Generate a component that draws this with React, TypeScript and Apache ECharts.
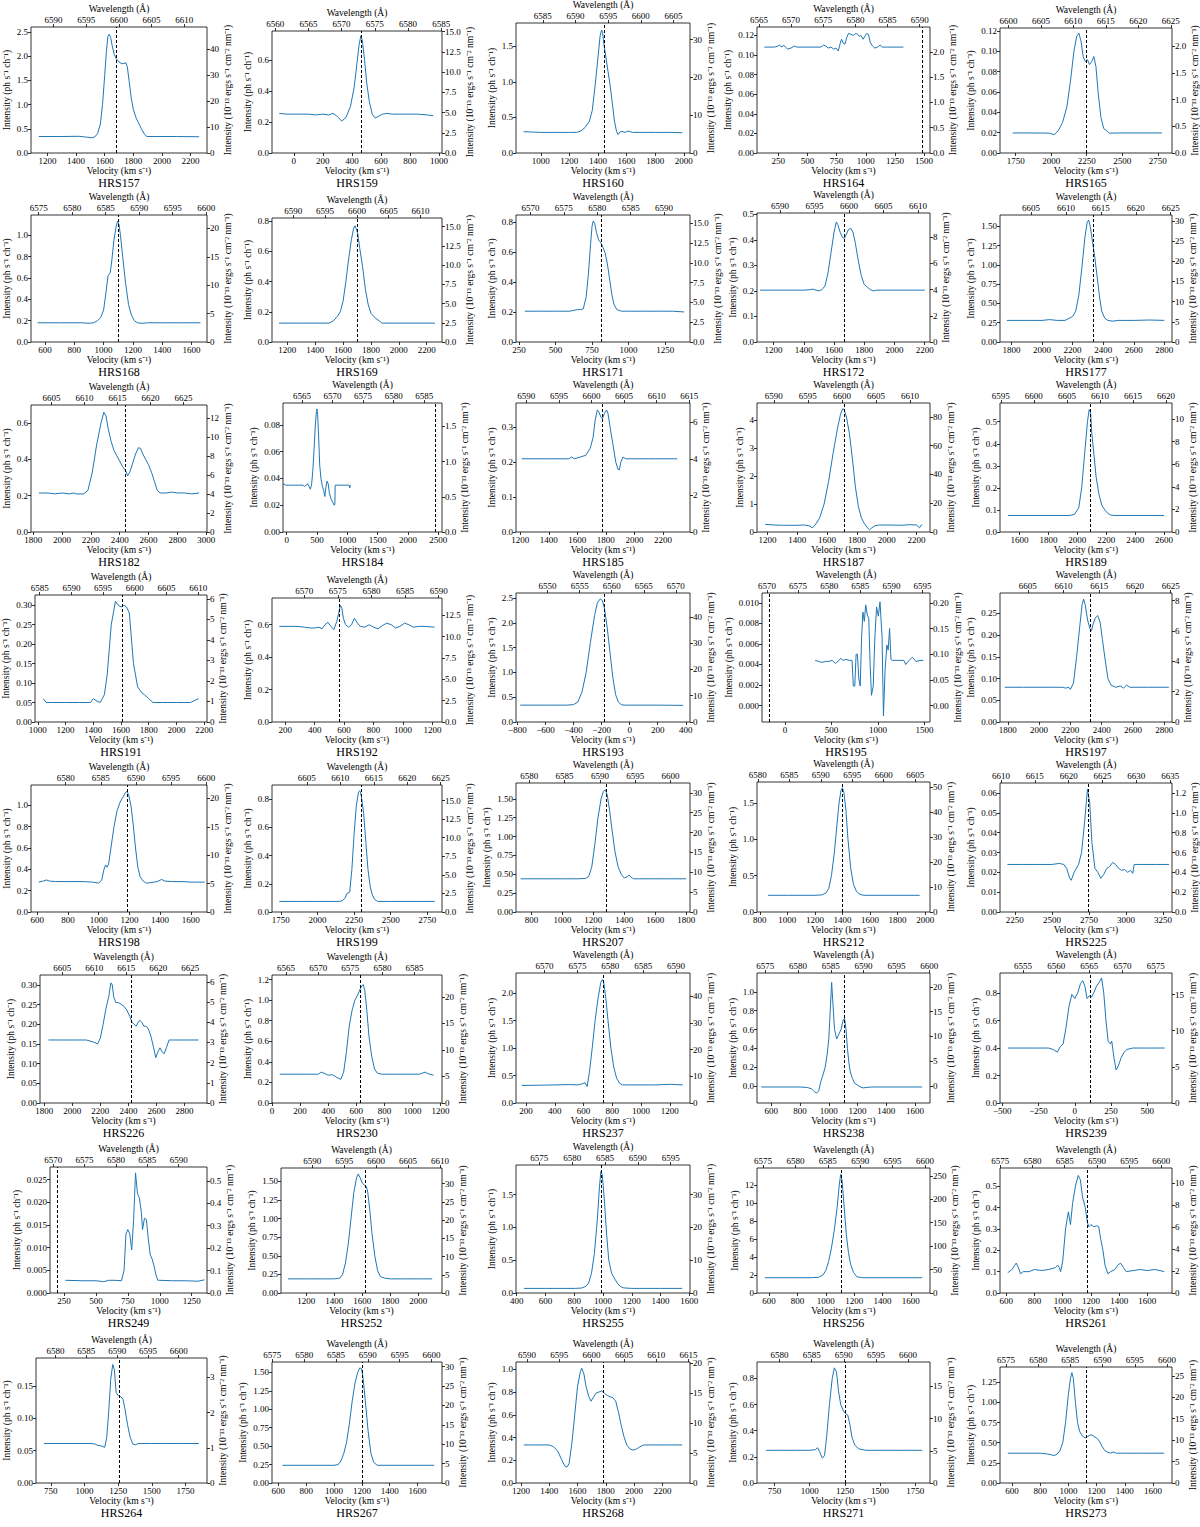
import React, { useEffect, useRef } from "react";
import * as echarts from "echarts";

const C_KMS = 299792.458;
const L0 = 6562.8;

const NAMES = ["HRS157","HRS159","HRS160","HRS164","HRS165","HRS168","HRS169","HRS171","HRS172","HRS177","HRS182","HRS184","HRS185","HRS187","HRS189","HRS191","HRS192","HRS193","HRS195","HRS197","HRS198","HRS199","HRS207","HRS212","HRS225","HRS226","HRS230","HRS237","HRS238","HRS239","HRS249","HRS252","HRS255","HRS256","HRS261","HRS264","HRS267","HRS268","HRS271","HRS273"];

// spectra: [velocity km/s, intensity ph/s/ch]
const S157 = [[1140,.34],[1300,.34],[1420,.345],[1450,.335],[1480,.325],[1510,.315],[1530,.33],[1550,.40],[1570,.60],[1585,1.0],[1600,1.6],[1612,2.1],[1622,2.4],[1632,2.45],[1642,2.38],[1652,2.22],[1665,2.05],[1680,1.95],[1700,1.88],[1720,1.84],[1735,1.85],[1748,1.86],[1758,1.78],[1770,1.5],[1785,1.15],[1800,.9],[1820,.72],[1840,.6],[1860,.48],[1880,.38],[1895,.34],[1950,.34],[2100,.34],[2260,.335]];
const S159 = [[-100,.255],[-50,.25],[0,.25],[100,.25],[150,.245],[200,.25],[240,.245],[270,.255],[300,.235],[330,.205],[360,.23],[390,.3],[415,.42],[435,.58],[450,.7],[462,.755],[472,.72],[487,.6],[502,.45],[520,.33],[540,.25],[560,.225],[580,.235],[610,.25],[640,.255],[680,.25],[750,.25],[850,.25],[920,.245],[960,.24]];
const S160 = [[880,.3],[1000,.29],[1100,.29],[1200,.29],[1250,.29],[1280,.31],[1310,.36],[1340,.45],[1360,.6],[1380,.95],[1400,1.35],[1415,1.65],[1425,1.73],[1432,1.7],[1440,1.55],[1455,1.35],[1470,1.15],[1485,.95],[1500,.7],[1515,.45],[1530,.3],[1540,.26],[1555,.3],[1575,.3],[1590,.29],[1610,.31],[1640,.29],[1700,.29],[1800,.29],[1900,.29],[1990,.285]];
const S164 = [[130,.108],[216,.108],[245,.109],[259,.110],[281,.108],[296,.110],[310,.108],[330,.106],[358,.107],[387,.109],[410,.108],[615,.108],[638,.110],[658,.109],[678,.107],[701,.108],[724,.106],[744,.107],[764,.104],[781,.112],[792,.116],[807,.112],[821,.111],[838,.118],[852,.122],[872,.121],[895,.120],[915,.122],[929,.121],[943,.119],[958,.120],[978,.116],[992,.119],[1009,.122],[1023,.121],[1038,.113],[1058,.109],[1078,.107],[1100,.108],[1123,.110],[1143,.108],[1186,.108],[1323,.108]];
const S165 = [[1730,.0197],[1900,.0197],[1990,.0195],[2020,.018],[2050,.022],[2080,.03],[2110,.045],[2135,.07],[2160,.10],[2180,.115],[2195,.118],[2210,.11],[2225,.095],[2240,.09],[2255,.092],[2270,.087],[2285,.09],[2300,.095],[2315,.085],[2330,.06],[2350,.035],[2370,.024],[2390,.022],[2410,.0195],[2450,.0197],[2780,.0197]];
const S168 = [[550,.18],[700,.18],[850,.18],[900,.175],[930,.18],[960,.2],[980,.23],[1000,.3],[1015,.45],[1030,.62],[1045,.65],[1055,.75],[1070,.95],[1085,1.08],[1095,1.13],[1105,1.1],[1115,1.0],[1130,.8],[1150,.55],[1170,.35],[1190,.25],[1210,.2],[1230,.18],[1260,.175],[1300,.18],[1400,.18],[1500,.18],[1660,.18]];
const S169 = [[1140,.125],[1300,.125],[1450,.125],[1500,.125],[1530,.14],[1560,.17],[1580,.2],[1600,.27],[1620,.4],[1640,.55],[1660,.68],[1675,.75],[1685,.77],[1695,.75],[1705,.72],[1720,.62],[1740,.5],[1760,.35],[1780,.25],[1800,.19],[1830,.16],[1860,.14],[1880,.125],[2000,.125],[2260,.125]];
const S171 = [[290,.205],[400,.205],[500,.205],[600,.205],[620,.21],[650,.215],[670,.215],[690,.22],[710,.3],[725,.45],[740,.65],[750,.77],[758,.805],[768,.79],[780,.73],[795,.68],[810,.66],[825,.63],[840,.59],[855,.52],[870,.42],[885,.32],[900,.25],[920,.215],[950,.205],[1000,.205],[1100,.205],[1200,.205],[1300,.205],[1380,.2]];
const S172 = [[1110,.203],[1300,.203],[1400,.203],[1440,.205],[1460,.207],[1480,.203],[1500,.2],[1520,.205],[1540,.22],[1560,.27],[1580,.35],[1600,.43],[1615,.47],[1625,.46],[1640,.43],[1655,.41],[1668,.405],[1680,.42],[1695,.44],[1710,.445],[1725,.43],[1740,.39],[1760,.32],[1780,.26],[1800,.225],[1820,.215],[1840,.205],[1860,.2],[1880,.203],[2000,.203],[2200,.203]];
const S177 = [[1770,.28],[1900,.28],[2000,.28],[2050,.29],[2100,.28],[2150,.28],[2180,.31],[2200,.33],[2220,.4],[2240,.6],[2260,.95],[2280,1.35],[2295,1.55],[2305,1.58],[2315,1.5],[2330,1.3],[2345,1.1],[2360,.85],[2375,.6],[2390,.4],[2410,.31],[2430,.28],[2460,.27],[2500,.28],[2600,.28],[2700,.285],[2800,.28]];
const S182 = [[1840,.215],[1900,.215],[1950,.21],[2000,.215],[2050,.21],[2080,.215],[2100,.21],[2150,.21],[2180,.23],[2210,.33],[2240,.48],[2270,.6],[2290,.66],[2305,.64],[2320,.57],[2340,.5],[2360,.45],[2380,.42],[2400,.39],[2420,.36],[2440,.34],[2455,.31],[2470,.33],[2490,.38],[2510,.43],[2530,.465],[2545,.46],[2560,.43],[2580,.4],[2600,.37],[2620,.33],[2640,.28],[2660,.23],[2680,.215],[2720,.215],[2760,.22],[2800,.215],[2850,.215],[2900,.21],[2950,.215]];
const S184 = [[-55,.035],[-40,.036],[-25,.035],[0,.035],[100,.035],[200,.035],[270,.035],[290,.034],[320,.035],[350,.036],[370,.034],[390,.032],[410,.035],[430,.045],[450,.06],[470,.078],[490,.09],[500,.092],[510,.088],[525,.074],[545,.05],[565,.04],[590,.034],[610,.031],[630,.0265],[645,.033],[665,.038],[685,.036],[705,.029],[730,.025],[760,.022],[785,.020],[795,.021],[800,.035],[850,.035],[950,.035],[1030,.035],[1040,.033],[1050,.035]];
const S185 = [[1210,.21],[1400,.21],[1500,.21],[1540,.21],[1560,.215],[1580,.21],[1620,.215],[1660,.22],[1690,.24],[1710,.27],[1725,.32],[1740,.35],[1750,.345],[1765,.33],[1775,.325],[1790,.34],[1805,.35],[1815,.34],[1830,.3],[1850,.25],[1870,.2],[1885,.18],[1895,.178],[1905,.2],[1920,.215],[1940,.21],[2000,.21],[2100,.21],[2300,.21]];
const S187 = [[1185,.27],[1250,.25],[1300,.24],[1400,.24],[1450,.25],[1480,.22],[1500,.15],[1520,.25],[1550,.5],[1580,1.0],[1610,1.8],[1640,2.8],[1670,3.7],[1690,4.2],[1705,4.4],[1715,4.35],[1730,4.1],[1750,3.5],[1770,2.6],[1790,1.6],[1810,.9],[1830,.5],[1850,.3],[1870,.15],[1885,.08],[1900,.15],[1920,.22],[1950,.25],[2000,.25],[2100,.24],[2150,.26],[2200,.25],[2220,.15],[2235,.27]];
const S189 = [[1520,.075],[1700,.075],[1900,.075],[1950,.075],[1980,.08],[2000,.1],[2010,.11],[2030,.2],[2050,.35],[2070,.5],[2082,.555],[2092,.54],[2100,.45],[2115,.35],[2130,.25],[2150,.17],[2170,.12],[2190,.1],[2210,.085],[2230,.077],[2260,.075],[2400,.075],[2600,.075]];
const S191 = [[1040,.06],[1060,.05],[1100,.05],[1200,.05],[1300,.05],[1380,.05],[1400,.06],[1420,.055],[1450,.05],[1480,.07],[1500,.12],[1530,.25],[1560,.31],[1580,.3],[1600,.295],[1620,.3],[1640,.295],[1660,.28],[1690,.15],[1720,.09],[1750,.075],[1770,.07],[1800,.06],[1830,.05],[1900,.05],[2000,.05],[2100,.05],[2160,.06]];
const S192 = [[160,.59],[220,.59],[280,.59],[330,.585],[370,.58],[400,.58],[430,.585],[450,.575],[470,.6],[490,.615],[510,.59],[530,.57],[550,.62],[565,.68],[575,.72],[585,.7],[595,.64],[610,.6],[630,.585],[650,.6],[670,.64],[690,.61],[710,.59],[740,.585],[770,.6],[800,.585],[830,.575],[860,.595],[890,.61],[920,.6],[950,.58],[980,.59],[1010,.61],[1040,.6],[1070,.585],[1110,.59],[1150,.59],[1215,.585]];
const S193 = [[-780,.34],[-600,.34],[-450,.34],[-400,.35],[-370,.4],[-340,.6],[-310,1.0],[-280,1.6],[-250,2.15],[-230,2.4],[-210,2.48],[-195,2.45],[-180,2.3],[-160,1.9],[-140,1.4],[-120,.9],[-100,.55],[-80,.4],[-60,.35],[-40,.34],[0,.34],[200,.34],[380,.335]];
const S195 = [[324,.0044],[360,.0043],[397,.0042],[434,.0043],[471,.0043],[507,.0044],[544,.0041],[581,.0044],[599,.0046],[625,.0044],[654,.0045],[691,.0044],[721,.0044],[735,.0019],[750,.0019],[765,.005],[779,.005],[794,.0026],[809,.0019],[824,.0067],[838,.0091],[853,.0082],[868,.0098],[886,.0088],[901,.0085],[915,.0042],[930,.001],[949,.0019],[967,.0067],[985,.0096],[1004,.0087],[1022,.0101],[1044,.0067],[1059,-.001],[1077,.0035],[1096,.0059],[1110,.0054],[1125,.0075],[1140,.0045],[1154,.0044],[1206,.0044],[1279,.0044],[1298,.004],[1335,.0044],[1371,.0047],[1408,.0043],[1463,.0044],[1489,.0044]];
const S197 = [[1780,.08],[1900,.08],[2000,.08],[2100,.08],[2150,.08],[2170,.078],[2190,.08],[2200,.075],[2220,.09],[2240,.15],[2260,.22],[2275,.27],[2285,.283],[2295,.27],[2310,.235],[2325,.215],[2335,.21],[2345,.225],[2360,.24],[2375,.245],[2390,.23],[2405,.19],[2420,.15],[2440,.1],[2460,.085],[2490,.08],[2520,.083],[2540,.078],[2560,.085],[2580,.08],[2700,.08],[2830,.08]];
const S198 = [[610,.28],[640,.29],[660,.3],[680,.29],[720,.285],[800,.285],[900,.285],[960,.28],[1000,.27],[1020,.3],[1035,.4],[1045,.44],[1055,.42],[1065,.45],[1080,.6],[1100,.8],[1120,.95],[1140,1.03],[1160,1.08],[1175,1.12],[1185,1.13],[1195,1.1],[1210,1.0],[1225,.82],[1240,.6],[1255,.42],[1270,.33],[1290,.29],[1310,.27],[1340,.275],[1380,.285],[1410,.305],[1430,.29],[1480,.285],[1550,.285],[1600,.28],[1690,.28]];
const S199 = [[1740,.075],[1900,.075],[2000,.075],[2100,.075],[2150,.075],[2170,.08],[2190,.1],[2200,.13],[2220,.14],[2235,.3],[2250,.55],[2265,.75],[2280,.85],[2290,.86],[2300,.82],[2315,.7],[2330,.5],[2345,.3],[2360,.18],[2375,.12],[2390,.09],[2410,.075],[2500,.075],[2700,.075],[2800,.075]];
const S207 = [[730,.44],[900,.44],[1000,.44],[1100,.44],[1150,.445],[1170,.47],[1190,.6],[1210,.9],[1230,1.25],[1250,1.5],[1265,1.6],[1278,1.62],[1290,1.55],[1305,1.35],[1320,1.1],[1340,.8],[1360,.6],[1380,.5],[1400,.45],[1420,.47],[1430,.49],[1445,.46],[1460,.44],[1500,.44],[1600,.44],[1700,.44],[1800,.44]];
const S212 = [[860,.23],[1000,.23],[1100,.23],[1200,.23],[1250,.235],[1280,.26],[1300,.32],[1320,.5],[1340,.8],[1360,1.2],[1375,1.5],[1390,1.68],[1400,1.71],[1410,1.65],[1425,1.4],[1440,1.0],[1460,.6],[1480,.38],[1500,.29],[1520,.25],[1550,.23],[1700,.23],[1960,.23]];
const S225 = [[2200,.024],[2300,.024],[2400,.024],[2500,.024],[2550,.0245],[2580,.024],[2600,.022],[2620,.017],[2630,.016],[2650,.02],[2680,.024],[2700,.03],[2720,.045],[2740,.062],[2755,.055],[2770,.035],[2790,.022],[2810,.02],[2830,.017],[2850,.019],[2870,.022],[2890,.023],[2910,.025],[2930,.024],[2950,.022],[2970,.021],[2990,.0215],[3010,.02],[3030,.021],[3045,.0195],[3055,.024],[3100,.024],[3200,.024],[3290,.024]];
const S226 = [[1830,.16],[1900,.16],[2000,.16],[2100,.16],[2150,.155],[2180,.15],[2200,.165],[2220,.2],[2240,.24],[2260,.27],[2275,.305],[2285,.3],[2295,.27],[2310,.255],[2330,.255],[2350,.25],[2370,.245],[2390,.235],[2410,.22],[2425,.205],[2440,.2],[2455,.195],[2470,.205],[2480,.21],[2495,.205],[2510,.195],[2525,.195],[2540,.19],[2560,.17],[2580,.14],[2595,.115],[2610,.13],[2625,.14],[2640,.13],[2655,.125],[2670,.14],[2690,.16],[2720,.16],[2800,.16],[2900,.16]];
const S230 = [[55,.28],[150,.28],[250,.28],[330,.28],[350,.3],[370,.29],[400,.27],[430,.275],[460,.25],[490,.23],[510,.3],[530,.5],[550,.75],[570,.9],[590,1.0],[610,1.05],[625,1.1],[640,1.14],[650,1.15],[660,1.1],[675,.9],[690,.65],[710,.45],[730,.33],[750,.29],[780,.28],[900,.28],[1050,.28],[1090,.3],[1110,.285],[1150,.27]];
const S237 = [[170,.32],[300,.325],[400,.33],[500,.335],[560,.33],[590,.35],[610,.37],[625,.3],[640,.55],[660,1.0],[680,1.5],[700,1.9],[720,2.2],[730,2.25],[740,2.2],[755,1.9],[770,1.5],[790,1.0],[810,.65],[830,.45],[850,.36],[870,.33],[900,.33],[1000,.33],[1100,.33],[1200,.34],[1290,.33]];
const S238 = [[530,-.01],[600,-.01],[700,-.01],[800,-.01],[850,-.015],[880,-.03],[900,-.06],[915,-.075],[930,-.05],[945,.05],[960,.12],[975,.2],[990,.35],[1000,.5],[1010,.8],[1020,1.1],[1030,.85],[1040,.6],[1055,.5],[1070,.55],[1085,.6],[1100,.7],[1110,.72],[1120,.6],[1130,.4],[1140,.25],[1150,.15],[1165,.08],[1180,.03],[1200,.01],[1220,-.01],[1240,-.02],[1260,-.015],[1300,-.01],[1400,-.01],[1500,-.01],[1650,-.01]];
const S239 = [[-460,.4],[-350,.4],[-250,.4],[-180,.4],[-150,.39],[-120,.37],[-100,.41],[-80,.43],[-60,.55],[-40,.7],[-20,.79],[0,.76],[20,.8],[40,.87],[55,.89],[70,.85],[85,.76],[100,.78],[115,.77],[130,.8],[150,.85],[170,.88],[185,.91],[200,.8],[215,.6],[230,.45],[245,.43],[255,.45],[270,.33],[285,.24],[300,.27],[320,.33],[340,.37],[360,.39],[400,.4],[500,.4],[620,.4]];
const S249 = [[260,.0028],[400,.0027],[500,.0027],[560,.0025],[600,.0028],[650,.0028],[700,.0027],[720,.005],[735,.013],[750,.014],[765,.013],[780,.0095],[795,.016],[810,.0265],[825,.022],[840,.021],[855,.018],[865,.014],[880,.0165],[895,.0162],[910,.012],[925,.0085],[940,.0075],[955,.006],[970,.004],[985,.0028],[1000,.0028],[1100,.0027],[1200,.0027],[1300,.0026],[1350,.0029]];
const S252 = [[1070,.19],[1200,.19],[1300,.19],[1400,.19],[1440,.2],[1460,.25],[1480,.4],[1500,.65],[1520,1.0],[1540,1.35],[1560,1.55],[1572,1.6],[1585,1.55],[1600,1.48],[1615,1.45],[1630,1.43],[1640,1.35],[1655,1.1],[1670,.8],[1690,.5],[1710,.3],[1730,.22],[1760,.2],[1800,.19],[1900,.19],[2000,.19],[2100,.19]];
const S255 = [[450,.07],[600,.07],[700,.07],[800,.07],[850,.075],[880,.1],[900,.15],[920,.3],[940,.6],[960,1.1],[975,1.6],[985,1.85],[995,1.8],[1010,1.4],[1025,.9],[1040,.5],[1060,.3],[1080,.22],[1100,.15],[1120,.1],[1140,.08],[1160,.075],[1200,.07],[1300,.07],[1400,.07],[1550,.07]];
const S256 = [[570,1.7],[700,1.7],[800,1.7],[900,1.7],[950,1.75],[980,2.0],[1000,2.5],[1020,3.5],[1040,5.0],[1060,7.0],[1080,9.5],[1095,12.0],[1105,13.2],[1115,12.5],[1130,9.5],[1145,6.5],[1160,4.5],[1175,3.2],[1195,2.3],[1220,1.8],[1260,1.7],[1400,1.7],[1550,1.7],[1680,1.7]];
const S261 = [[610,.095],[640,.11],[660,.13],[670,.14],[685,.12],[700,.09],[720,.1],[760,.1],[800,.11],[850,.105],[900,.11],[930,.115],[950,.12],[965,.13],[975,.12],[985,.1],[1000,.15],[1020,.3],[1040,.38],[1055,.32],[1070,.42],[1090,.5],[1110,.55],[1125,.53],[1140,.45],[1160,.4],[1175,.33],[1185,.31],[1200,.32],[1220,.31],[1240,.315],[1255,.31],[1270,.25],[1285,.2],[1300,.13],[1320,.09],[1340,.1],[1370,.11],[1390,.13],[1410,.14],[1430,.12],[1450,.1],[1500,.105],[1550,.11],[1600,.105],[1650,.11],[1690,.105],[1720,.1]];
const S264 = [[700,.061],[900,.061],[1050,.061],[1080,.06],[1100,.058],[1130,.057],[1150,.055],[1165,.07],[1180,.11],[1195,.16],[1210,.183],[1222,.175],[1235,.14],[1250,.135],[1270,.133],[1285,.13],[1300,.115],[1320,.09],[1340,.07],[1360,.06],[1380,.059],[1400,.061],[1500,.061],[1600,.061],[1700,.061],[1850,.061]];
const S267 = [[630,.24],[800,.24],[900,.24],[1000,.24],[1030,.25],[1050,.3],[1070,.4],[1090,.55],[1110,.8],[1130,1.1],[1150,1.35],[1170,1.5],[1185,1.56],[1198,1.55],[1210,1.4],[1225,1.1],[1245,.7],[1265,.4],[1285,.28],[1310,.24],[1400,.24],[1600,.24],[1720,.24]];
const S268 = [[1220,.335],[1300,.335],[1400,.335],[1430,.32],[1460,.28],[1490,.2],[1510,.15],[1525,.14],[1540,.17],[1560,.35],[1580,.6],[1600,.85],[1620,.98],[1630,1.01],[1645,.96],[1660,.85],[1680,.76],[1695,.72],[1710,.75],[1730,.79],[1750,.8],[1770,.81],[1790,.79],[1810,.77],[1830,.76],[1850,.75],[1870,.72],[1890,.62],[1910,.5],[1930,.4],[1950,.33],[1970,.3],[1990,.29],[2010,.295],[2030,.31],[2050,.325],[2070,.335],[2150,.335],[2250,.335],[2340,.335]];
const S271 = [[690,.25],[800,.25],[900,.25],[1000,.25],[1040,.255],[1055,.27],[1070,.24],[1090,.19],[1105,.21],[1120,.35],[1140,.6],[1160,.8],[1175,.88],[1190,.85],[1205,.7],[1220,.6],[1240,.55],[1255,.53],[1270,.52],[1285,.45],[1300,.35],[1320,.29],[1350,.26],[1400,.25],[1500,.25],[1600,.25],[1700,.25],[1800,.25]];
const S273 = [[570,.37],[700,.37],[800,.37],[850,.36],[880,.35],[900,.34],[920,.36],[940,.4],[960,.5],[980,.75],[1000,1.1],[1015,1.3],[1025,1.37],[1035,1.3],[1050,1.0],[1065,.75],[1080,.64],[1100,.58],[1120,.56],[1140,.58],[1160,.6],[1180,.58],[1200,.56],[1220,.52],[1240,.45],[1260,.4],[1280,.38],[1300,.37],[1320,.385],[1340,.37],[1400,.37],[1500,.37],[1680,.37]];

const SPECTRA = [S157,S159,S160,S164,S165,S168,S169,S171,S172,S177,S182,S184,S185,S187,S189,S191,S192,S193,S195,S197,S198,S199,S207,S212,S225,S226,S230,S237,S238,S239,S249,S252,S255,S256,S261,S264,S267,S268,S271,S273];

// dashed line: systemic velocity
const SYS_VEL = [1684,462,1445,1486,2245,1100,1705,810,1665,2335,2440,2450,1775,1715,2090,1610,568,-178,-165,2330,1185,2300,1285,1400,2745,2420,625,735,1110,110,195,1625,985,1110,1175,1255,1200,1785,1250,1130];

const VEL_LIM = [[1085,2315],[-150,1020],[827,2043],[67,1551],[1640,2850],[505,1705],[1090,2310],[230,1420],[1090,2235],[1725,2850],[1785,3005],[-60,2560],[1170,2390],[1130,2290],[1465,2655],[980,2220],[110,1265],[-810,430],[-248,1560],[1750,2850],[560,1705],[1690,2850],[700,1825],[780,2035],[2150,3310],[1770,2960],[0,1210],[130,1340],[500,1705],[-515,670],[140,1370],[1020,2170],[395,1605],[515,1735],[555,1775],[640,1910],[555,1775],[1165,2395],[625,1855],[515,1735]];

const INT_LIM = [[0,2.6],[0,0.785],[0,1.83],[0,0.1285],[0,0.123],[0,1.19],[0,0.822],[0,0.845],[0,0.505],[0,1.646],[0,0.70],[0,0.0964],[0,0.37],[0,4.6],[0,0.585],[0,0.326],[0,0.765],[0,2.6],[-0.0016,0.01096],[0,0.297],[0,1.19],[0,0.9],[0,1.71],[0,1.79],[0,0.0651],[0,0.325],[0,1.244],[0,2.37],[-0.18,1.2],[0,0.946],[0,0.0278],[0,1.68],[0,1.95],[0,13.9],[0,0.585],[0,0.193],[0,1.64],[0,1.065],[0,0.925],[0,1.44]];

const FLUX_FACTOR = [18.6,19.2,18.8,19.4,19,18.8,19.6,19,19.5,19.1,19.1,19,19.1,19.5,19.5,19,19,18.9,20,28.6,18.8,19,19,29,20,19.5,19.4,20.6,19,19,20.2,20.4,20,19.2,19.4,18.4,19,19,20.3,18.8];

const WAVE_LIM_OVERRIDE: Record<string, number[]> = { HRS164: [6564.7, 6591.6], HRS184: [6561.9, 6587.9], HRS195: [6569.2, 6596.2], HRS249: [6569.5, 6594.5] };

const VEL_TICKS = [
  [1200,1400,1600,1800,2000,2200],[0,200,400,600,800,1000],[1000,1200,1400,1600,1800,2000],[250,500,750,1000,1250,1500],[1750,2000,2250,2500,2750],
  [600,800,1000,1200,1400,1600],[1200,1400,1600,1800,2000,2200],[250,500,750,1000,1250],[1200,1400,1600,1800,2000,2200],[1800,2000,2200,2400,2600,2800],
  [1800,2000,2200,2400,2600,2800,3000],[0,500,1000,1500,2000,2500],[1200,1400,1600,1800,2000,2200],[1200,1400,1600,1800,2000,2200],[1600,1800,2000,2200,2400,2600],
  [1000,1200,1400,1600,1800,2000,2200],[200,400,600,800,1000,1200],[-800,-600,-400,-200,0,200,400],[0,500,1000,1500],[1800,2000,2200,2400,2600,2800],
  [600,800,1000,1200,1400,1600],[1750,2000,2250,2500,2750],[800,1000,1200,1400,1600,1800],[800,1000,1200,1400,1600,1800,2000],[2250,2500,2750,3000,3250],
  [1800,2000,2200,2400,2600,2800],[0,200,400,600,800,1000,1200],[200,400,600,800,1000,1200],[600,800,1000,1200,1400,1600],[-500,-250,0,250,500],
  [250,500,750,1000,1250],[1200,1400,1600,1800,2000,2200],[400,600,800,1000,1200,1400,1600],[600,800,1000,1200,1400,1600],[600,800,1000,1200,1400,1600],
  [750,1000,1250,1500,1750],[600,800,1000,1200,1400,1600],[1200,1400,1600,1800,2000,2200],[750,1000,1250,1500,1750],[600,800,1000,1200,1400,1600]
];

const WAVE_TICKS = [
  [6590,6595,6600,6605,6610],[6560,6565,6570,6575,6580,6585],[6585,6590,6595,6600,6605],[6565,6570,6575,6580,6585,6590],[6600,6605,6610,6615,6620,6625],
  [6575,6580,6585,6590,6595,6600],[6590,6595,6600,6605,6610],[6570,6575,6580,6585,6590],[6590,6595,6600,6605,6610],[6605,6610,6615,6620,6625],
  [6605,6610,6615,6620,6625],[6565,6570,6575,6580,6585],[6590,6595,6600,6605,6610,6615],[6590,6595,6600,6605,6610],[6595,6600,6605,6610,6615,6620],
  [6585,6590,6595,6600,6605,6610],[6570,6575,6580,6585,6590],[6550,6555,6560,6565,6570],[6570,6575,6580,6585,6590,6595],[6605,6610,6615,6620,6625],
  [6575,6580,6585,6590,6595,6600],[6605,6610,6615,6620,6625],[6580,6585,6590,6595,6600],[6580,6585,6590,6595,6600,6605],[6610,6615,6620,6625,6630,6635],
  [6605,6610,6615,6620,6625],[6565,6570,6575,6580,6585],[6570,6575,6580,6585,6590],[6575,6580,6585,6590,6595,6600],[6555,6560,6565,6570,6575],
  [6570,6575,6580,6585,6590],[6585,6590,6595,6600,6605,6610],[6575,6580,6585,6590,6595],[6575,6580,6585,6590,6595,6600],[6575,6580,6585,6590,6595,6600],
  [6580,6585,6590,6595,6600],[6575,6580,6585,6590,6595,6600],[6590,6595,6600,6605,6610,6615],[6580,6585,6590,6595,6600],[6575,6580,6585,6590,6595,6600]
];

const INT_TICKS = [
  [0,0.5,1.0,1.5,2.0,2.5],[0,0.2,0.4,0.6],[0,0.5,1.0,1.5],[0,0.02,0.04,0.06,0.08,0.10,0.12],[0,0.02,0.04,0.06,0.08,0.10,0.12],
  [0,0.2,0.4,0.6,0.8,1.0],[0,0.2,0.4,0.6,0.8],[0,0.2,0.4,0.6,0.8],[0,0.1,0.2,0.3,0.4,0.5],[0,0.25,0.5,0.75,1.0,1.25,1.5],
  [0,0.2,0.4,0.6],[0,0.02,0.04,0.06,0.08],[0,0.1,0.2,0.3],[0,1,2,3,4],[0,0.1,0.2,0.3,0.4,0.5],
  [0,0.05,0.1,0.15,0.2,0.25,0.3],[0,0.2,0.4,0.6],[0,0.5,1.0,1.5,2.0,2.5],[0,0.002,0.004,0.006,0.008,0.010],[0,0.05,0.1,0.15,0.2,0.25],
  [0,0.2,0.4,0.6,0.8,1.0],[0,0.2,0.4,0.6,0.8],[0,0.25,0.5,0.75,1.0,1.25,1.5],[0,0.5,1.0,1.5],[0,0.01,0.02,0.03,0.04,0.05,0.06],
  [0,0.05,0.1,0.15,0.2,0.25,0.3],[0,0.2,0.4,0.6,0.8,1.0,1.2],[0,0.5,1.0,1.5,2.0],[0,0.2,0.4,0.6,0.8,1.0],[0,0.2,0.4,0.6,0.8],
  [0,0.005,0.010,0.015,0.020,0.025],[0,0.25,0.5,0.75,1.0,1.25,1.5],[0,0.5,1.0,1.5],[0,2,4,6,8,10,12],[0,0.1,0.2,0.3,0.4,0.5],
  [0,0.05,0.1,0.15],[0,0.25,0.5,0.75,1.0,1.25,1.5],[0,0.2,0.4,0.6,0.8,1.0],[0,0.2,0.4,0.6,0.8],[0,0.25,0.5,0.75,1.0,1.25]
];
const INT_DEC = [1,1,1,2,2, 1,1,1,1,2, 1,2,1,0,1, 2,1,1,3,2, 1,1,2,1,2, 2,1,1,1,1, 3,2,1,0,1, 2,2,1,1,2];

const FLUX_TICKS = [
  [0,10,20,30,40],[0,2.5,5,7.5,10,12.5,15],[0,10,20,30],[0,0.5,1.0,1.5,2.0],[0,0.5,1.0,1.5,2.0],
  [0,5,10,15,20],[0,2.5,5,7.5,10,12.5,15],[0,2.5,5,7.5,10,12.5,15],[0,2,4,6,8],[0,5,10,15,20,25,30],
  [0,2,4,6,8,10,12],[0,0.5,1.0,1.5],[0,2,4,6],[0,20,40,60,80],[0,2,4,6,8,10],
  [0,1,2,3,4,5,6],[0,2.5,5,7.5,10,12.5],[0,10,20,30,40],[0,0.05,0.1,0.15,0.2],[0,2,4,6,8],
  [0,5,10,15,20],[0,2.5,5,7.5,10,12.5,15],[0,5,10,15,20,25,30],[0,10,20,30,40,50],[0,0.2,0.4,0.6,0.8,1.0,1.2],
  [0,1,2,3,4,5,6],[0,5,10,15,20],[0,10,20,30,40],[0,5,10,15,20],[0,5,10,15],
  [0,0.1,0.2,0.3,0.4,0.5],[0,5,10,15,20,25,30],[0,10,20,30],[0,50,100,150,200,250],[0,2,4,6,8,10],
  [0,1,2,3],[0,5,10,15,20,25,30],[0,5,10,15,20],[0,5,10,15],[0,5,10,15,20,25]
];
const FLUX_DEC = [0,1,0,1,1, 0,1,1,0,0, 0,1,0,0,0, 0,1,0,2,0, 0,1,0,0,1, 0,0,0,0,0, 1,0,0,0,0, 0,0,0,0,0];

// layout (pixels)
const COL_LEFT = [31, 272, 516, 757, 1000];
const COL_RIGHT = [207, 442, 690, 930, 1172];
const ROW_BOTTOM = [153, 342, 532, 722, 912, 1103, 1293, 1483];
const PANEL_TOP = [27,31,23,27,28, 215,218,215,213,215, 405,403,403,403,403, 595,598,593,593,593, 785,785,783,782,783, 975,975,973,973,973, 1167,1168,1165,1168,1168, 1358,1362,1362,1362,1367];
const LEFT_OVERRIDE: Record<string, number> = { HRS191: 35, HRS226: 40, HRS249: 50, HRS264: 36, HRS184: 283, HRS195: 762, HRS252: 281 };

const FONT = "'Liberation Serif', 'Times New Roman', Times, serif";
const TICK_FS = 9;
const NAME_FS = 9.5;
const TITLE_FS = 12;

function fmt(v: number, d: number) {
  const s = Math.abs(v).toFixed(d);
  return v < 0 ? "\u2212" + s : s;
}
function labelWidth(ticks: number[], d: number) {
  let m = 0;
  for (const t of ticks) {
    let w = 0;
    for (const ch of fmt(t, d)) w += ch === "." ? 0.25 : ch === "\u2212" ? 0.56 : 0.5;
    m = Math.max(m, w * TICK_FS);
  }
  return m;
}

function axisBase(ticks: number[], d: number) {
  return {
    type: "value",
    axisLine: { show: false, onZero: false },
    axisTick: { show: true, inside: false, length: 3, lineStyle: { color: "#000", width: 0.8 }, customValues: ticks },
    axisLabel: { show: true, customValues: ticks, formatter: (v: number) => fmt(v, d), color: "#000", fontSize: TICK_FS, fontFamily: FONT, margin: 3, hideOverlap: false },
    splitLine: { show: false },
    nameLocation: "middle",
    nameTextStyle: { color: "#000", fontSize: NAME_FS, fontFamily: FONT },
  };
}

export default function App() {
  const ref = useRef<HTMLDivElement>(null);
  useEffect(() => {
    if (!ref.current) return;
    const chart = echarts.init(ref.current, undefined, { renderer: "svg" });
    const grid: any[] = [];
    const xAxis: any[] = [];
    const yAxis: any[] = [];
    const series: any[] = [];
    const texts: any[] = [];
    NAMES.forEach((name, i) => {
      const row = Math.floor(i / 5);
      const col = i % 5;
      const left = LEFT_OVERRIDE[name] ?? COL_LEFT[col];
      const right = COL_RIGHT[col];
      const top = PANEL_TOP[i];
      const bottom = ROW_BOTTOM[row];
      grid.push({ left, top, width: right - left, height: bottom - top, show: true, borderColor: "#000", borderWidth: 0.8, backgroundColor: "transparent", containLabel: false, outerBoundsMode: "none" });
      const [vmin, vmax] = VEL_LIM[i];
      const wl = WAVE_LIM_OVERRIDE[name] ?? [L0 * (1 + vmin / C_KMS), L0 * (1 + vmax / C_KMS)];
      xAxis.push({ ...axisBase(VEL_TICKS[i], 0), gridIndex: i, position: "bottom", min: vmin, max: vmax, name: "Velocity (km s\u207B\u00B9)", nameGap: 11 });
      xAxis.push({ ...axisBase(WAVE_TICKS[i], 0), gridIndex: i, position: "top", min: wl[0], max: wl[1], name: "Wavelength (\u00C5)", nameGap: 9 });
      const [imin, imax] = INT_LIM[i];
      const f = FLUX_FACTOR[i];
      const lw = labelWidth(INT_TICKS[i], INT_DEC[i]);
      const rw = labelWidth(FLUX_TICKS[i], FLUX_DEC[i]);
      yAxis.push({ ...axisBase(INT_TICKS[i], INT_DEC[i]), gridIndex: i, position: "left", min: imin, max: imax, name: "Intensity (ph s\u207B\u00B9 ch\u207B\u00B9)", nameRotate: 90, nameGap: 4 + lw + 4 });
      yAxis.push({ ...axisBase(FLUX_TICKS[i], FLUX_DEC[i]), gridIndex: i, position: "right", min: imin * f, max: imax * f, name: "Intensity (10\u207B\u00B9\u00B3 ergs s\u207B\u00B9 cm\u207B\u00B2 nm\u207B\u00B9)", nameRotate: 90, nameGap: 4 + rw + 1 });
      series.push({
        type: "line",
        name,
        xAxisIndex: 2 * i,
        yAxisIndex: 2 * i,
        data: SPECTRA[i],
        showSymbol: false,
        symbol: "none",
        silent: true,
        clip: true,
        lineStyle: { color: "#1f77b4", width: 1 },
        markLine: {
          silent: true,
          symbol: ["none", "none"],
          label: { show: false },
          lineStyle: { color: "#000", type: [3, 2], width: 1 },
          data: [{ xAxis: SYS_VEL[i] }],
        },
      });
      texts.push({
        type: "text",
        x: (left + right) / 2,
        y: bottom + 30,
        style: { text: name, fill: "#000", font: `${TITLE_FS}px ${FONT}`, textAlign: "center", textVerticalAlign: "middle", align: "center", verticalAlign: "middle" },
      });
    });
    chart.setOption({ animation: false, backgroundColor: "#fff", grid, xAxis, yAxis, series, graphic: { elements: texts } });
    return () => chart.dispose();
  }, []);
  return <div ref={ref} style={{ position: "absolute", left: 0, top: 0, width: 1200, height: 1527, background: "#fff" }} />;
}
